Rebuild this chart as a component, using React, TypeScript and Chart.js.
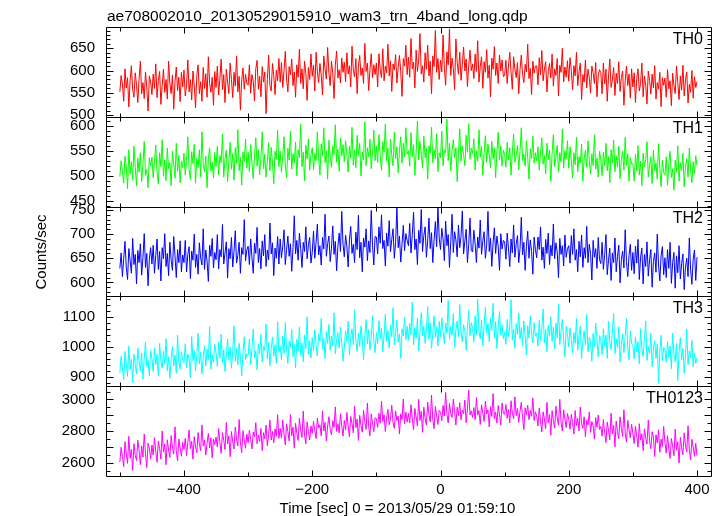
import React, { useEffect, useRef } from "react";
import { Chart, registerables } from "chart.js";

Chart.register(...registerables);

const TITLE = "ae708002010_20130529015910_wam3_trn_4band_long.qdp";
const X_TITLE = "Time [sec] 0 = 2013/05/29 01:59:10";
const Y_TITLE = "Counts/sec";

const T_START = -500;
const T_BIN = 2;
const X_MIN = -521.6;
const X_MAX = 421.8;
const X_LABEL_STEP = 200;
const X_MINOR_STEP = 100;

const PANEL_NAMES = ["TH0", "TH1", "TH2", "TH3", "TH0123"];
const PANEL_COLORS = ["#ff0000", "#00ff00", "#0000ff", "#00ffff", "#ff00ff"];
const Y_MIN = [496, 439, 571, 869, 2516];
const Y_MAX = [698, 619, 757, 1169, 3084];
const Y_TICKS_TH0 = [500, 550, 600, 650];
const Y_TICKS_TH1 = [450, 500, 550, 600];
const Y_TICKS_TH2 = [600, 650, 700, 750];
const Y_TICKS_TH3 = [900, 1000, 1100];
const Y_TICKS_TH0123 = [2600, 2800, 3000];
const Y_TICKS = [Y_TICKS_TH0, Y_TICKS_TH1, Y_TICKS_TH2, Y_TICKS_TH3, Y_TICKS_TH0123];
const Y_MAJOR_STEP = [50, 50, 50, 100, 100];
const Y_MINOR_STEP = [10, 10, 10, 20, 50];

const TH0 = [
  552, 589, 570, 531, 604, 561, 584, 518, 578, 611, 557, 540, 595, 567, 528, 582, 621, 548, 573, 537, 597, 562, 509, 588, 574,
  546, 592, 560, 615, 539, 577, 598, 524, 566, 603, 551, 580, 536, 621, 572, 548, 590, 513, 575, 608, 555, 585, 530, 596, 563,
  601, 543, 567, 624, 552, 580, 534, 599, 568, 516, 589, 613, 548, 575, 531, 607, 560, 593, 540, 631, 571, 551, 585, 522, 598,
  562, 610, 545, 583, 626, 557, 591, 528, 603, 574, 548, 617, 580, 539, 596, 565, 633, 552, 587, 511, 579, 606, 558, 592, 570,
  567, 613, 549, 591, 576, 532, 604, 623, 558, 587, 541, 609, 574, 597, 503, 580, 635, 566, 554, 616, 589, 546, 601, 577, 627,
  574, 618, 562, 600, 643, 581, 552, 609, 590, 626, 566, 597, 540, 613, 585, 648, 571, 604, 559, 621, 594, 533, 607, 580, 637,
  587, 612, 554, 641, 597, 573, 616, 590, 545, 633, 603, 581, 652, 594, 566, 621, 595, 537, 612, 644, 583, 602, 572, 628, 596,
  619, 575, 640, 592, 611, 563, 655, 601, 586, 627, 548, 610, 634, 589, 606, 571, 661, 598, 617, 555, 602, 638, 584, 613, 591,
  617, 563, 638, 601, 584, 649, 577, 610, 595, 659, 588, 622, 553, 615, 601, 636, 572, 608, 634, 597, 542, 627, 610, 657, 591,
  630, 585, 672, 604, 619, 561, 646, 598, 625, 683, 592, 611, 574, 640, 603, 657, 588, 621, 548, 633, 609, 690, 596, 627, 580,
  623, 597, 680, 606, 567, 642, 613, 694, 589, 628, 605, 557, 671, 618, 592, 641, 578, 613, 653, 599, 626, 564, 611, 646, 600,
  615, 582, 637, 598, 667, 574, 609, 631, 560, 620, 596, 647, 583, 612, 541, 628, 603, 654, 589, 617, 571, 635, 599, 624, 586,
  589, 623, 571, 610, 641, 597, 558, 631, 603, 584, 618, 548, 602, 635, 591, 573, 614, 597, 659, 582, 605, 546, 621, 594, 610,
  611, 568, 629, 590, 645, 577, 603, 620, 552, 598, 616, 583, 637, 565, 604, 589, 627, 543, 612, 596, 650, 574, 608, 585, 622,
  576, 629, 600, 557, 611, 588, 641, 566, 597, 617, 535, 591, 574, 624, 561, 603, 584, 549, 610, 595, 571, 618, 541, 589, 602,
  595, 548, 617, 570, 603, 531, 588, 626, 562, 579, 607, 544, 594, 571, 620, 553, 585, 599, 522, 577, 610, 566, 592, 538, 604,
  563, 595, 528, 582, 604, 554, 571, 617, 541, 588, 567, 525, 599, 578, 547, 592, 561, 611, 536, 573, 558, 596, 519, 584, 567,
  583, 540, 602, 559, 577, 521, 594, 566, 548, 610, 573, 535, 588, 556, 612, 543, 579, 597, 527, 569, 551, 600, 538, 586, 562,
  575,
];

const TH1 = [
  499, 531, 511, 486, 540, 521, 475, 553, 504, 529, 492, 560, 518, 481, 536, 508, 547, 489, 523, 570, 502, 513, 477, 537, 520,
  538, 497, 529, 562, 508, 484, 547, 519, 573, 500, 533, 491, 556, 515, 527, 481, 550, 524, 496, 566, 510, 541, 487, 530, 517,
  546, 502, 532, 579, 513, 493, 549, 525, 564, 486, 536, 517, 553, 498, 589, 523, 509, 540, 477, 534, 557, 510, 528, 496, 548,
  519, 560, 503, 541, 527, 584, 498, 535, 552, 489, 530, 568, 514, 545, 492, 557, 526, 593, 511, 538, 482, 549, 529, 574, 516,
  548, 509, 563, 527, 495, 541, 577, 520, 553, 503, 536, 589, 515, 544, 498, 530, 567, 511, 558, 526, 485, 550, 534, 592, 519,
  550, 508, 541, 579, 523, 497, 556, 532, 590, 514, 545, 526, 568, 501, 553, 537, 604, 519, 548, 491, 562, 535, 575, 512, 543,
  557, 513, 546, 531, 588, 537, 502, 565, 540, 597, 527, 551, 494, 572, 539, 518, 561, 543, 603, 528, 554, 510, 576, 541, 563,
  529, 571, 545, 508, 560, 536, 598, 522, 553, 517, 582, 541, 566, 500, 548, 533, 609, 521, 557, 539, 574, 515, 547, 592, 531,
  561, 527, 583, 540, 512, 569, 548, 604, 530, 556, 498, 574, 543, 521, 588, 535, 559, 507, 551, 579, 526, 566, 539, 597, 544,
  551, 520, 587, 539, 563, 502, 548, 610, 533, 570, 544, 516, 580, 537, 556, 494, 561, 546, 598, 527, 553, 535, 585, 509, 547,
  537, 590, 521, 552, 547, 614, 531, 566, 511, 550, 573, 537, 557, 489, 546, 595, 530, 561, 542, 521, 582, 548, 605, 534, 556,
  545, 575, 512, 551, 530, 593, 538, 560, 502, 547, 581, 528, 564, 541, 517, 570, 535, 556, 497, 549, 588, 532, 561, 520, 552,
  543, 518, 568, 533, 557, 502, 548, 585, 528, 541, 562, 513, 550, 597, 531, 544, 520, 571, 537, 494, 555, 535, 580, 526, 547,
  530, 559, 512, 549, 577, 524, 541, 505, 566, 533, 552, 490, 545, 583, 519, 538, 562, 508, 547, 528, 594, 516, 551, 535, 571,
  516, 559, 532, 496, 547, 523, 578, 509, 539, 527, 564, 490, 535, 552, 518, 571, 530, 504, 545, 521, 583, 514, 536, 498, 550,
  533, 501, 548, 520, 566, 511, 539, 487, 553, 526, 572, 509, 541, 518, 560, 495, 534, 550, 512, 578, 521, 545, 490, 537, 524,
  525, 490, 544, 511, 561, 502, 530, 481, 546, 519, 534, 569, 498, 522, 539, 485, 552, 511, 527, 494, 565, 515, 479, 532, 507,
  503, 539, 482, 524, 550, 497, 515, 472, 532, 508, 561, 490, 527, 511, 546, 479, 520, 535, 498, 556, 512, 487, 529, 505, 541,
  521,
];

const TH2 = [
  629, 661, 612, 649, 685, 632, 606, 670, 646, 619, 691, 637, 658, 597, 666, 641, 680, 615, 652, 701, 631, 660, 593, 648, 672,
  638, 677, 619, 655, 690, 627, 664, 603, 672, 649, 701, 633, 660, 614, 683, 646, 625, 695, 655, 610, 668, 641, 686, 622, 657,
  641, 687, 622, 658, 674, 608, 665, 646, 700, 631, 658, 617, 682, 651, 636, 711, 627, 667, 644, 602, 677, 654, 691, 630, 662,
  647, 699, 628, 668, 653, 720, 638, 661, 684, 609, 670, 649, 693, 632, 664, 707, 640, 656, 683, 619, 672, 658, 730, 645, 667,
  675, 637, 690, 652, 619, 681, 660, 714, 641, 670, 628, 686, 655, 699, 633, 667, 647, 723, 659, 682, 614, 671, 650, 695, 638,
  690, 651, 675, 709, 637, 668, 696, 654, 680, 623, 672, 738, 659, 687, 646, 702, 670, 631, 683, 664, 715, 649, 678, 693, 640,
  662, 706, 650, 683, 721, 657, 676, 636, 693, 669, 741, 654, 680, 696, 643, 671, 717, 658, 685, 624, 675, 702, 664, 747, 679,
  653, 698, 675, 632, 688, 716, 660, 679, 641, 704, 668, 739, 651, 683, 622, 692, 673, 711, 645, 686, 662, 749, 677, 636, 695,
  694, 659, 715, 681, 740, 670, 687, 634, 702, 675, 728, 663, 689, 711, 650, 683, 754, 672, 696, 642, 679, 718, 666, 701, 687,
  676, 722, 661, 699, 745, 668, 690, 637, 708, 681, 751, 664, 697, 715, 652, 686, 733, 670, 703, 641, 688, 726, 674, 756, 692,
  668, 712, 690, 645, 727, 676, 699, 631, 684, 741, 662, 705, 688, 653, 719, 672, 695, 748, 659, 686, 710, 641, 678, 733, 666,
  663, 708, 680, 641, 694, 671, 729, 658, 686, 705, 650, 677, 747, 664, 692, 633, 682, 713, 660, 696, 674, 625, 701, 669, 687,
  684, 648, 702, 671, 633, 690, 661, 719, 652, 679, 697, 641, 670, 735, 657, 683, 625, 675, 706, 650, 688, 664, 617, 694, 668,
  651, 694, 668, 715, 646, 673, 629, 689, 660, 702, 637, 677, 655, 721, 649, 682, 663, 610, 691, 658, 676, 634, 698, 652, 670,
  676, 640, 697, 658, 711, 646, 668, 622, 685, 653, 698, 631, 672, 650, 716, 641, 679, 660, 605, 687, 652, 670, 629, 693, 647,
  639, 683, 627, 658, 699, 616, 646, 671, 604, 661, 641, 692, 622, 654, 677, 599, 647, 665, 630, 709, 643, 612, 656, 679, 625,
  662, 618, 675, 640, 689, 606, 652, 671, 597, 658, 633, 684, 613, 647, 668, 590, 643, 661, 621, 700, 636, 603, 655, 674, 616,
  651, 610, 668, 629, 683, 598, 641, 662, 588, 655, 620, 676, 607, 639, 659, 585, 632, 650, 612, 692, 626, 596, 648, 667, 604,
  652,
];

const TH3 = [
  914, 969, 930, 891, 985, 946, 902, 1003, 925, 959, 881, 976, 941, 910, 997, 951, 920, 980, 892, 962, 1017, 935, 955, 904, 988,
  962, 918, 997, 941, 975, 903, 1012, 953, 929, 986, 944, 1028, 921, 967, 895, 958, 1001, 937, 973, 912, 1040, 949, 926, 984, 955,
  947, 1011, 931, 976, 960, 898, 1035, 954, 988, 920, 969, 1046, 943, 982, 911, 966, 1004, 937, 993, 957, 1068, 925, 974, 950, 1009,
  981, 935, 1016, 962, 1043, 947, 990, 918, 973, 1027, 956, 1000, 929, 985, 1071, 952, 996, 941, 1012, 968, 903, 983, 1034, 958, 977,
  971, 1027, 942, 998, 1060, 963, 987, 924, 1011, 978, 1042, 950, 1003, 989, 1077, 960, 1016, 937, 995, 1033, 969, 1008, 946, 1084, 982,
  1003, 958, 1036, 979, 1082, 991, 945, 1019, 997, 1058, 967, 1008, 930, 1025, 986, 1067, 972, 1013, 951, 1040, 994, 1101, 976, 1021, 963,
  1031, 987, 1058, 1005, 970, 1043, 1020, 1096, 994, 1029, 961, 1051, 1012, 1075, 989, 1037, 1003, 1114, 977, 1025, 1048, 996, 1067, 1014, 953,
  998, 1054, 1017, 1086, 973, 1033, 1061, 1008, 1124, 1019, 985, 1047, 1002, 1071, 1029, 958, 1039, 1092, 1011, 1058, 990, 1035, 1105, 1022, 981,
  1049, 1011, 1088, 1028, 1062, 984, 1040, 1109, 1019, 1055, 996, 1073, 1034, 1131, 1007, 1048, 1090, 1016, 1044, 962, 1061, 1037, 1100, 1025, 1069,
  1022, 1079, 1041, 1150, 1007, 1063, 1030, 1096, 988, 1052, 1115, 1038, 1070, 1012, 1057, 1135, 1026, 1081, 995, 1047, 1104, 1033, 1068, 1003, 1085,
  1033, 1097, 1051, 1012, 1080, 1045, 1155, 1026, 1068, 1039, 1111, 1000, 1057, 1086, 1034, 1142, 1048, 1017, 1075, 1054, 989, 1065, 1122, 1038, 1081,
  1062, 1016, 1104, 1041, 1160, 1053, 1027, 1089, 1004, 1071, 1132, 1046, 1078, 1018, 1097, 1055, 1146, 1031, 1085, 995, 1066, 1119, 1040, 1074, 1028,
  1050, 1009, 1092, 1035, 1067, 1158, 1023, 1059, 996, 1078, 1042, 1113, 1027, 1065, 1004, 1087, 1039, 974, 1071, 1030, 1104, 1047, 1014, 1082, 1036,
  1047, 1003, 1089, 1022, 1061, 1127, 1013, 1058, 985, 1072, 1036, 1101, 1019, 1066, 993, 1080, 1030, 1144, 1008, 1055, 1092, 1025, 967, 1069, 1041,
  1001, 1063, 1026, 980, 1048, 1012, 1095, 989, 1037, 1069, 961, 1020, 1054, 1006, 1109, 984, 1032, 1017, 952, 1045, 1000, 1080, 1023, 967, 1038,
  1024, 975, 1061, 1003, 1040, 962, 1087, 1015, 991, 1049, 1112, 978, 1027, 996, 1068, 950, 1009, 1043, 981, 1035, 1096, 999, 957, 1054, 1012,
  1005, 961, 1034, 983, 1018, 944, 1061, 992, 969, 1027, 1087, 955, 1002, 978, 1045, 934, 990, 1021, 962, 1010, 879, 986, 1039, 954, 998,
  992, 949, 1018, 966, 1003, 927, 1047, 975, 951, 1012, 888, 984, 1031, 958, 995, 912, 970, 1060, 941, 987, 963, 1022, 934, 980, 945,
  965,
];

const TH0123 = [
  2605, 2697, 2640, 2575, 2733, 2663, 2596, 2767, 2628, 2685, 2552, 2720, 2647, 2614, 2743, 2678, 2587, 2706, 2635, 2781, 2657, 2569, 2724, 2691, 2623,
  2712, 2648, 2759, 2671, 2603, 2736, 2690, 2622, 2801, 2667, 2719, 2587, 2745, 2680, 2634, 2772, 2699, 2655, 2827, 2676, 2611, 2750, 2693, 2641, 2728,
  2683, 2754, 2645, 2728, 2807, 2689, 2736, 2622, 2765, 2700, 2663, 2791, 2717, 2676, 2839, 2705, 2744, 2648, 2723, 2785, 2694, 2757, 2631, 2749, 2715,
  2762, 2701, 2816, 2728, 2659, 2790, 2743, 2683, 2854, 2719, 2770, 2638, 2797, 2731, 2687, 2826, 2750, 2706, 2873, 2725, 2664, 2803, 2744, 2692, 2781,
  2728, 2806, 2746, 2687, 2794, 2763, 2853, 2720, 2775, 2734, 2817, 2676, 2790, 2752, 2838, 2707, 2780, 2869, 2743, 2798, 2725, 2814, 2767, 2904, 2754,
  2818, 2755, 2871, 2782, 2713, 2846, 2797, 2738, 2905, 2771, 2824, 2692, 2850, 2785, 2741, 2881, 2803, 2760, 2927, 2776, 2719, 2858, 2799, 2744, 2833,
  2786, 2861, 2804, 2752, 2882, 2819, 2840, 2770, 2928, 2801, 2855, 2737, 2833, 2891, 2810, 2776, 2866, 2824, 2953, 2798, 2846, 2789, 2910, 2831, 2768,
  2867, 2806, 2918, 2833, 2764, 2892, 2848, 2789, 2957, 2822, 2876, 2741, 2900, 2836, 2793, 2932, 2855, 2811, 2978, 2827, 2770, 2909, 2851, 2797, 2884,
  2879, 2824, 2913, 2850, 2988, 2861, 2903, 2797, 2886, 2938, 2840, 2875, 2964, 2853, 2818, 2927, 2866, 2895, 2781, 2909, 2872, 3003, 2845, 2920, 2857,
  2912, 2851, 2967, 2878, 2809, 2943, 2890, 2833, 3001, 2867, 2925, 2792, 2951, 2882, 2838, 2983, 2904, 2857, 3028, 2873, 2815, 2956, 2896, 2842, 2931,
  2919, 2866, 2962, 2897, 3045, 2908, 2851, 2974, 2913, 2886, 3003, 2924, 2838, 2951, 2899, 2980, 2871, 2932, 2910, 2997, 2853, 2941, 3060, 2902, 2928,
  2886, 2949, 2873, 3012, 2901, 2930, 2842, 2967, 2915, 2861, 2990, 2908, 2935, 2827, 2955, 2893, 3037, 2879, 2921, 2850, 2962, 2904, 2837, 2978, 2911,
  2906, 2968, 2881, 2935, 2851, 2992, 2914, 2879, 3017, 2898, 2943, 2855, 2926, 2982, 2887, 2810, 2947, 2904, 2963, 2872, 2931, 2894, 3010, 2866, 2922,
  2894, 2832, 2947, 2861, 2795, 2922, 2876, 2815, 2981, 2853, 2905, 2774, 2930, 2866, 2819, 2958, 2882, 2837, 3001, 2857, 2801, 2935, 2875, 2822, 2911,
  2874, 2812, 2906, 2853, 2781, 2930, 2835, 2880, 2801, 2952, 2847, 2818, 2891, 2764, 2869, 2839, 2921, 2792, 2860, 2833, 2749, 2885, 2824, 2902, 2810,
  2829, 2768, 2873, 2791, 2727, 2857, 2806, 2745, 2912, 2782, 2836, 2701, 2864, 2797, 2752, 2890, 2815, 2766, 2935, 2788, 2730, 2868, 2809, 2757, 2843,
  2786, 2721, 2831, 2769, 2698, 2847, 2743, 2783, 2677, 2814, 2754, 2718, 2869, 2736, 2688, 2796, 2763, 2639, 2777, 2725, 2808, 2666, 2749, 2703, 2830,
  2726, 2661, 2771, 2689, 2627, 2754, 2705, 2644, 2812, 2679, 2733, 2598, 2760, 2695, 2651, 2789, 2712, 2667, 2834, 2683, 2619, 2748, 2701, 2640, 2722,
  2645,
];

const SERIES = [TH0, TH1, TH2, TH3, TH0123];

const FONT_FAMILY = '"Liberation Sans", Arial, Helvetica, sans-serif';

const qdpPlugin = {
  id: "qdpFrame",
  beforeDatasetDraw(chart: any, args: any) {
    const ys = chart.scales[args.meta.yAxisID];
    const a = chart.chartArea;
    const ctx = chart.ctx;
    ctx.save();
    ctx.beginPath();
    ctx.rect(a.left, ys.top, a.right - a.left, ys.bottom - ys.top);
    ctx.clip();
  },
  afterDatasetDraw(chart: any) {
    chart.ctx.restore();
  },
  afterDraw(chart: any) {
    const ctx = chart.ctx;
    const a = chart.chartArea;
    const xs = chart.scales.x;
    const px = (v: number) => Math.round(v) + 0.5;
    ctx.save();
    ctx.strokeStyle = "#000";
    ctx.lineWidth = 1;
    PANEL_NAMES.forEach((name, i) => {
      const ys = chart.scales["y" + i];
      const top = px(ys.top);
      const bot = px(ys.bottom);
      const L = px(a.left);
      const R = px(a.right);
      ctx.beginPath();
      ctx.moveTo(L, top);
      ctx.lineTo(R, top);
      ctx.lineTo(R, bot);
      ctx.lineTo(L, bot);
      ctx.closePath();
      const minor = Y_MINOR_STEP[i];
      const major = Y_MAJOR_STEP[i];
      for (let k = Math.ceil(Y_MIN[i] / minor); k <= Math.floor(Y_MAX[i] / minor); k++) {
        const v = k * minor;
        const y = px(ys.getPixelForValue(v));
        const len = v % major === 0 ? 7 : 4;
        ctx.moveTo(L, y);
        ctx.lineTo(L + len, y);
        ctx.moveTo(R, y);
        ctx.lineTo(R - len, y);
      }
      for (let k = Math.ceil(X_MIN / X_MINOR_STEP); k <= Math.floor(X_MAX / X_MINOR_STEP); k++) {
        const v = k * X_MINOR_STEP;
        const x = px(xs.getPixelForValue(v));
        const len = v % X_LABEL_STEP === 0 ? 6 : 4;
        ctx.moveTo(x, top);
        ctx.lineTo(x, top + len);
        ctx.moveTo(x, bot);
        ctx.lineTo(x, bot - len);
      }
      ctx.stroke();
      ctx.fillStyle = "#000";
      ctx.font = `16px ${FONT_FAMILY}`;
      ctx.textAlign = "right";
      ctx.textBaseline = "alphabetic";
      ctx.fillText(name, a.right - 8, ys.top + 16.5);
    });
    ctx.fillStyle = "#000";
    ctx.font = `15.5px ${FONT_FAMILY}`;
    ctx.textAlign = "left";
    ctx.textBaseline = "alphabetic";
    ctx.fillText(TITLE, a.left + 1, 20.5);
    ctx.font = `15px ${FONT_FAMILY}`;
    ctx.textAlign = "center";
    ctx.fillText(X_TITLE, 397.5, 512.5);
    ctx.save();
    ctx.translate(46, 252);
    ctx.rotate(-Math.PI / 2);
    ctx.textAlign = "center";
    ctx.fillText(Y_TITLE, 0, 0);
    ctx.restore();
    ctx.restore();
  },
};

export default function App() {
  const ref = useRef<HTMLCanvasElement | null>(null);
  useEffect(() => {
    if (!ref.current) return;
    const tickFont = { family: FONT_FAMILY, size: 15 };
    const scales: any = {
      x: {
        type: "linear",
        position: "bottom",
        min: X_MIN,
        max: X_MAX,
        ticks: {
          stepSize: X_LABEL_STEP,
          includeBounds: false,
          autoSkip: false,
          maxRotation: 0,
          minRotation: 0,
          padding: 5,
          color: "#000",
          font: tickFont,
          callback: (v: any) => String(v).replace("-", "\u2212"),
        },
        grid: { display: false, drawTicks: false },
        border: { display: false },
        afterFit: (s: any) => {
          s.height = 40;
          s.paddingLeft = 0;
          s.paddingRight = 0;
        },
      },
    };
    // stacked axes: the last one defined is placed at the top
    for (let i = PANEL_NAMES.length - 1; i >= 0; i--) {
      const tickVals = Y_TICKS[i];
      scales["y" + i] = {
        type: "linear",
        position: "left",
        stack: "panels",
        stackWeight: 1,
        min: Y_MIN[i],
        max: Y_MAX[i],
        afterBuildTicks: (s: any) => {
          s.ticks = tickVals.map((v) => ({ value: v }));
        },
        ticks: {
          autoSkip: false,
          padding: 11,
          color: "#000",
          font: tickFont,
          callback: (v: any) => String(v),
        },
        grid: { display: false, drawTicks: false },
        border: { display: false },
        afterFit: (s: any) => {
          s.width = 106;
          s.paddingTop = 0;
          s.paddingBottom = 0;
        },
      };
    }
    const datasets = SERIES.map((vals, i) => ({
      label: PANEL_NAMES[i],
      data: vals.map((v, k) => ({ x: T_START + k * T_BIN, y: v })),
      borderColor: PANEL_COLORS[i],
      backgroundColor: PANEL_COLORS[i],
      borderWidth: 1,
      pointRadius: 0,
      tension: 0,
      fill: false,
      yAxisID: "y" + i,
    }));
    const chart = new Chart(ref.current, {
      type: "line",
      data: { datasets },
      options: {
        responsive: false,
        animation: false,
        devicePixelRatio: 1,
        events: [],
        layout: { padding: { top: 27, right: 13, left: 0, bottom: 0 } },
        plugins: { legend: { display: false }, tooltip: { enabled: false }, title: { display: false } },
        scales,
      },
      plugins: [qdpPlugin],
    } as any);
    return () => chart.destroy();
  }, []);
  return (
    <div style={{ position: "absolute", left: 0, top: 0, width: 724, height: 516, background: "#fff" }}>
      <canvas ref={ref} width={724} height={516} style={{ display: "block" }} />
    </div>
  );
}
